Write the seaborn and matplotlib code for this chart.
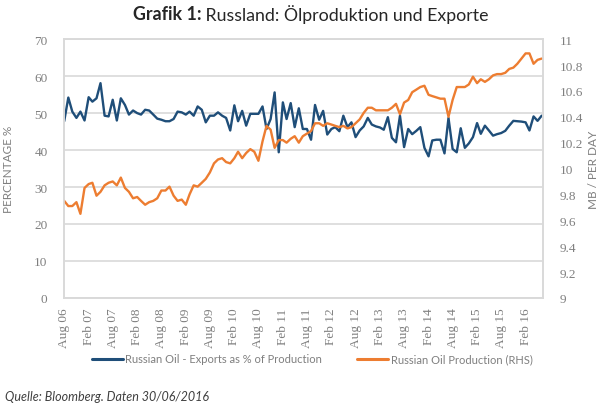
import numpy as np
import pandas as pd
import matplotlib
matplotlib.use("Agg")
import matplotlib.pyplot as plt
from matplotlib.lines import Line2D
import seaborn as sns

# monthly data, Aug 2006 .. Jun 2016
months = pd.date_range("2006-08-01", "2016-06-01", freq="MS")

exports_pct = [
    47.8, 54.2, 50.4, 48.7, 50.4, 48.0, 54.3, 53.1, 54.0, 58.1,
    49.3, 49.1, 53.6, 48.0, 54.0, 52.2, 49.6, 50.7, 50.0, 49.6,
    50.9, 50.7, 49.6, 48.5, 48.2, 47.8, 47.8, 48.4, 50.4, 50.2,
    49.6, 50.4, 49.3, 51.8, 50.9, 47.5, 49.3, 49.3, 50.2, 49.3,
    48.7, 45.3, 52.1, 47.8, 50.6, 46.6, 49.8, 49.8, 49.8, 51.8,
    45.7, 48.4, 55.6, 39.4, 52.9, 48.4, 52.7, 46.2, 51.3, 45.7,
    45.7, 42.8, 52.2, 48.2, 50.6, 44.2, 45.7, 46.2, 45.1, 49.3,
    46.2, 47.5, 43.5, 45.3, 46.4, 48.7, 46.9, 46.4, 46.1, 45.5,
    48.9, 43.3, 42.1, 49.3, 40.8, 45.7, 44.3, 45.2, 46.2, 40.6,
    38.3, 42.6, 42.8, 42.8, 39.1, 48.7, 40.3, 39.4, 45.9, 40.6,
    41.8, 43.5, 47.3, 44.4, 46.6, 45.3, 43.9, 44.3, 44.6, 45.2,
    46.6, 47.9, 47.8, 47.7, 47.5, 45.3, 49.1, 47.9, 49.3,
]

production_mbd = [
    9.75, 9.71, 9.71, 9.74, 9.65, 9.85, 9.88, 9.89, 9.79, 9.82,
    9.87, 9.89, 9.90, 9.87, 9.93, 9.85, 9.82, 9.77, 9.78, 9.75,
    9.72, 9.74, 9.75, 9.77, 9.83, 9.83, 9.86, 9.79, 9.75, 9.76,
    9.72, 9.80, 9.87, 9.86, 9.89, 9.92, 9.97, 10.04, 10.07, 10.08,
    10.05, 10.04, 10.08, 10.13, 10.08, 10.12, 10.15, 10.13, 10.06, 10.21,
    10.33, 10.30, 10.16, 10.22, 10.22, 10.20, 10.23, 10.25, 10.20, 10.25,
    10.27, 10.29, 10.35, 10.35, 10.33, 10.35, 10.34, 10.33, 10.32, 10.33,
    10.31, 10.32, 10.35, 10.38, 10.43, 10.47, 10.47, 10.45, 10.45, 10.45,
    10.45, 10.47, 10.50, 10.42, 10.51, 10.53, 10.59, 10.61, 10.63, 10.64,
    10.57, 10.56, 10.55, 10.54, 10.54, 10.40, 10.53, 10.63, 10.63, 10.63,
    10.65, 10.71, 10.66, 10.69, 10.67, 10.69, 10.72, 10.73, 10.73, 10.74,
    10.77, 10.78, 10.81, 10.85, 10.89, 10.89, 10.81, 10.84, 10.85,
]

tick_dates = pd.date_range("2006-08-01", "2016-02-01", freq="6MS")
tick_labels = [d.strftime("%b %y") for d in tick_dates]
right_labels = ["9", "9.2", "9.4", "9.6", "9.8", "10", "10.2", "10.4", "10.6", "10.8", "11"]

blue = "#1F4E79"
orange = "#ED7D31"
grey_txt = "#7F7F7F"
grid_c = "#D9D9D9"

sns.set_style("white")
plt.rcParams["font.family"] = ["Lato", "DejaVu Sans"]

fig = plt.figure(figsize=(6, 4.1), dpi=100)
ax = fig.add_axes([0.107, 0.271, 0.798, 0.631])
ax2 = ax.twinx()

sns.lineplot(x=months, y=exports_pct, ax=ax, color=blue, linewidth=1.7)
sns.lineplot(x=months, y=production_mbd, ax=ax2, color=orange, linewidth=1.7)

ax.set_ylim(0, 70)
ax.set_yticks(range(0, 71, 10))
ax2.set_ylim(9, 11)
ax2.set_yticks(np.round(np.arange(9, 11.01, 0.2), 1))
ax2.set_yticklabels(right_labels)

ax.set_xlim(months[0], months[-1] + pd.Timedelta(days=10))
ax.set_xticks(tick_dates)
ax.set_xticklabels(tick_labels, rotation=90)

ax.yaxis.grid(True, color=grid_c, linewidth=1.2)
ax.set_axisbelow(True)
for a in (ax, ax2):
    for s in a.spines.values():
        s.set_color(grid_c)
        s.set_linewidth(1.2)
    a.set_xlabel("")

for lab in ax.get_yticklabels() + ax2.get_yticklabels() + ax.get_xticklabels():
    lab.set_fontfamily("Liberation Serif")
    lab.set_fontsize(9.5)
    lab.set_color(grey_txt)
ax.tick_params(axis="y", length=0, pad=12)
ax2.tick_params(axis="y", length=0, pad=12)
ax.tick_params(axis="x", length=4, color=grid_c, pad=3)

ax.set_ylabel("PERCENTAGE %", fontsize=8.5, color=grey_txt)
ax.yaxis.set_label_coords(-0.104, 0.5)
ax2.set_ylabel("MB / PER DAY", fontsize=8.5, color=grey_txt, rotation=90)
ax2.yaxis.set_label_coords(1.094, 0.5)

handles = [Line2D([], [], color=blue, linewidth=2.2), Line2D([], [], color=orange, linewidth=2.2)]
fig.legend(handles, ["Russian Oil - Exports as % of Production", "Russian Oil Production (RHS)"],
           loc="center", bbox_to_anchor=(0.52, 0.122), ncol=2, frameon=False,
           fontsize=8, labelcolor=grey_txt, handlelength=2.8, handletextpad=0.2,
           columnspacing=3.2)

# title with bold prefix
t1 = fig.text(0, 0.964, "Grafik 1:", fontsize=12.8, fontweight="bold", va="center", ha="left")
t2 = fig.text(0, 0.964, " Russland: Ölproduktion und Exporte", fontsize=12.8, va="center", ha="left")
fig.canvas.draw()
r = fig.canvas.get_renderer()
w1 = t1.get_window_extent(r).width / fig.bbox.width
w2 = t2.get_window_extent(r).width / fig.bbox.width
x0 = 0.518 - (w1 + w2) / 2
t1.set_x(x0)
t2.set_x(x0 + w1)

fig.text(0.008, 0.031, "Quelle: Bloomberg. Daten 30/06/2016", fontsize=9, style="italic",
         color="#404040", va="center", ha="left")

fig.savefig("out.png", dpi=100)
